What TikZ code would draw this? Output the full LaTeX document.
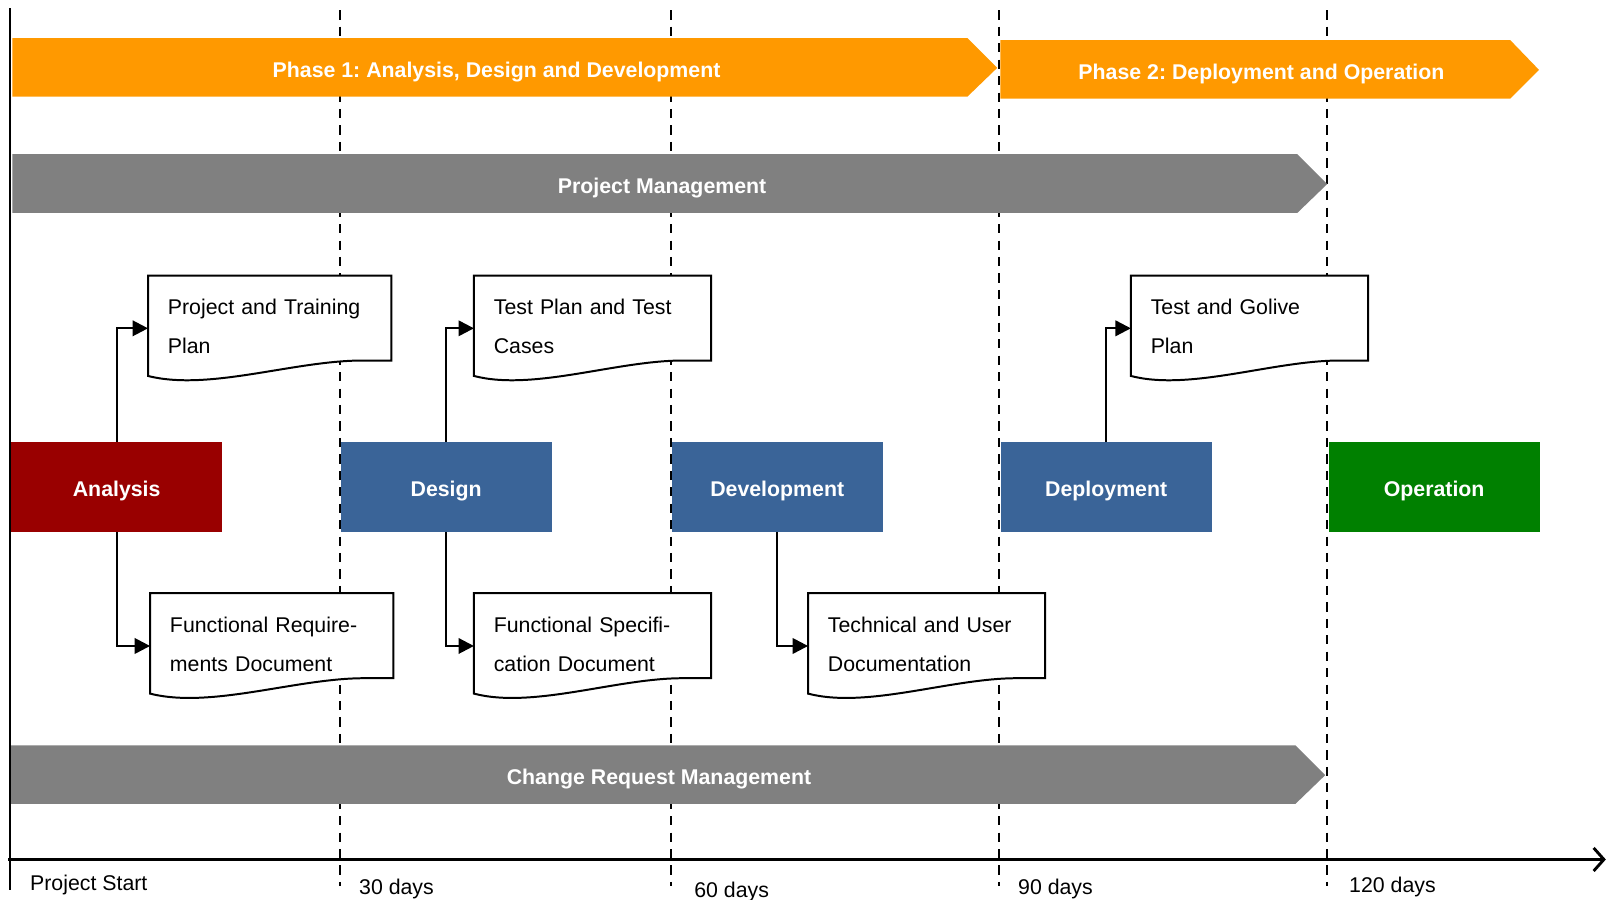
\documentclass[tikz,border=0pt]{standalone}
\usepackage{fontspec}
\setmainfont{Liberation Sans}
\usetikzlibrary{calc,arrows.meta}
\definecolor{phaseorange}{HTML}{FF9900}
\definecolor{bargray}{HTML}{808080}
\definecolor{anared}{HTML}{990000}
\definecolor{stageblue}{HTML}{3A6498}
\definecolor{opgreen}{HTML}{008000}
\pgfdeclarelayer{background}
\pgfdeclarelayer{docs}
\pgfsetlayers{background,docs,main}
\def\docframe#1{\begin{pgfonlayer}{docs}\filldraw[docline] (#1.north west) -- (#1.north east) -- (#1.south east) -- ($(#1.south east)!0.12!(#1.south west)$) .. controls ($(#1.south east)!0.4!(#1.south west)$) and ($(#1.south east)!0.75!(#1.south west)+(0cm,-0.6cm)$) .. ($(#1.south west)+(0cm,-0.3cm)$) -- cycle;\end{pgfonlayer}}
\def\docstrut{\rule{0pt}{0.64cm}}
\def\basefont{\frenchspacing\fontsize{11.8}{21.6}\selectfont}
\def\docfont{\basefont\hyphenpenalty=10000\relax}
\tikzstyle{bartext}=[text=white,inner sep=0,text height=10.2pt,text depth=0pt,font=\basefont\bfseries]
\tikzstyle{stage}=[minimum width=4.1cm,minimum height=1.74cm,inner sep=0,text height=10.2pt,text depth=0pt,text=white,font=\basefont\bfseries]
\tikzstyle{doc}=[anchor=north west,minimum height=1.64cm,text width=3.84cm,inner xsep=0.38cm,inner ysep=0,align=left,font=\docfont]
\tikzstyle{docline}=[draw=black,fill=white,line width=1.1pt]
\tikzstyle{link}=[line width=1.3pt,-{Triangle[length=0.3cm,width=0.3cm]}]
\tikzstyle{guide}=[line width=1.2pt,dash pattern=on 0.18cm off 0.14cm]
\tikzstyle{axis}=[line width=1.6pt,-{Straight Barb[length=0.2cm,width=0.45cm]}]
\tikzstyle{tick}=[anchor=west,inner sep=0,text height=10.2pt,text depth=0pt,font=\basefont]

\begin{document}
\begin{tikzpicture}[x=0.02cm,y=-0.02cm]
    \useasboundingbox (0,0) rectangle (1568,874.5);
    \begin{pgfonlayer}{background}
      \foreach \x in {331,653,972,1291}
        \draw[guide] (\x,10) -- (\x,862);
    \end{pgfonlayer}
    \fill[phaseorange] (12,37) -- (941,37) -- (970,66) -- (941,94) -- (12,94) -- cycle;
    \node[bartext] (phase1) at (483,66) {Phase 1: Analysis, Design and Development};
    \fill[phaseorange] (973,39) -- (1469,39) -- (1497,68) -- (1469,96) -- (973,96) -- cycle;
    \node[bartext] (phase2) at (1227,68) {Phase 2: Deployment and Operation};
    \fill[bargray] (12,150) -- (1262,150) -- (1291,179) -- (1262,207) -- (12,207) -- cycle;
    \node[bartext] (pm) at (644,179) {Project Management};
    \fill[bargray] (10,725) -- (1260,725) -- (1289,754) -- (1260,782) -- (10,782) -- cycle;
    \node[bartext] (crm) at (641,754) {Change Request Management};

    \node[stage,fill=anared] (ana) at (113.5,473.5) {Analysis};
    \node[stage,fill=stageblue] (des) at (434,473.5) {Design};
    \node[stage,fill=stageblue] (dev) at (756,473.5) {Development};
    \node[stage,fill=stageblue] (dep) at (1076,473.5) {Deployment};
    \node[stage,fill=opgreen] (op) at (1395,473.5) {Operation};

    \node[doc,text width=3.96cm] (ptp) at (144,268) {\docstrut Project and Training\\Plan};
    \node[doc,text width=3.96cm] (frd) at (146,577) {\docstrut Functional Require-\\ments Document};
    \node[doc] (tptc) at (461,268) {\docstrut Test Plan and Test\\Cases};
    \node[doc] (fsd) at (461,577) {\docstrut Functional Specifi-\\cation Document};
    \node[doc] (tud) at (786,577) {\docstrut Technical and User\\Documentation};
    \node[doc] (tgp) at (1100,268) {\docstrut Test and Golive\\Plan};
    \docframe{ptp}
    \docframe{frd}
    \docframe{tptc}
    \docframe{fsd}
    \docframe{tud}
    \docframe{tgp}

    \draw[link] (ana.north) |- ([yshift=-0.2cm]ptp.west);
    \draw[link] (ana.south) |- ([yshift=-0.2cm]frd.west);
    \draw[link] (des.north) |- ([yshift=-0.2cm]tptc.west);
    \draw[link] (des.south) |- ([yshift=-0.2cm]fsd.west);
    \draw[link] (dev.south) |- ([yshift=-0.2cm]tud.west);
    \draw[link] (dep.north) |- ([yshift=-0.2cm]tgp.west);

    \coordinate (top) at (10,8);
    \coordinate (bottom) at (10,866);
    \coordinate (start) at (8,836);
    \coordinate (end) at (1562,836);
    \draw[line width=1.1pt] (top) -- (bottom);
    \draw[axis] (start) -- (end);
    \node[tick] (t0) at (29,857) {Project Start};
    \node[tick] (t30) at (349,861) {30 days};
    \node[tick] (t60) at (675,864) {60 days};
    \node[tick] (t90) at (990,861) {90 days};
    \node[tick] (t120) at (1312,859) {120 days};
  \end{tikzpicture}
\end{document}
